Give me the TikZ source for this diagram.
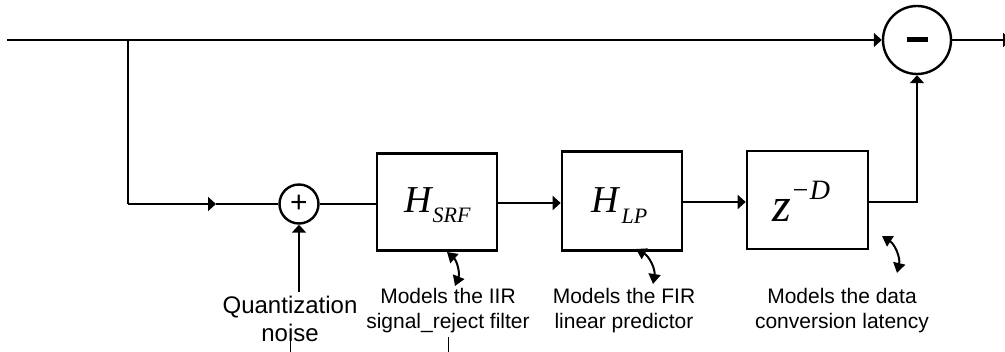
\documentclass[tikz,border=0pt]{standalone}
\usepackage{fontspec}
\setmainfont{Liberation Sans}
\newfontfamily\tim{Liberation Serif}
\usetikzlibrary{arrows.meta}
\tikzset{
  sig/.style={line width=1.8pt},
  arr/.style={sig,-{Triangle[length=8pt,width=14pt]}},
  blk/.style={draw,line width=2.6pt,minimum width=120pt,minimum height=97pt,inner sep=0pt},
  sumc/.style={draw,circle,line width=2.4pt,inner sep=0pt},
  lbl/.style={align=center,font=\fontsize{21}{25}\selectfont},
  dbl/.style={line width=2pt,{Triangle[length=10pt,width=12pt]}-{Triangle[length=10pt,width=12pt]}},
  mth/.style={anchor=base west,inner sep=0pt}
}
\begin{document}
\begin{tikzpicture}[x=1pt,y=-1pt]
\useasboundingbox (0,0) rectangle (1005,352);
% nodes
\node[sumc,minimum size=68pt] (minus) at (917,40) {\rule[-2.5pt]{21pt}{5pt}};
\node[sumc,minimum size=39pt,font=\fontsize{30}{30}\selectfont] (plus) at (299,204) {\raisebox{1pt}{+}};
\node[blk] (hsrf) at (437,202) {};
\node[blk,minimum height=99pt] (hlp) at (622,201) {};
\node[blk,minimum width=121pt,minimum height=98pt] (zd) at (807.5,200) {};
\node[mth] (hsrft) at (404,213) {\tim\itshape\fontsize{38}{38}\selectfont H\kern1pt\raisebox{-10pt}{\fontsize{22}{22}\selectfont SRF}};
\node[mth] (hlpt) at (591,213) {\tim\itshape\fontsize{38}{38}\selectfont H\kern3pt\raisebox{-11pt}{\fontsize{22}{22}\selectfont LP}};
\node[mth] (zdt) at (772,222) {\tim\itshape\fontsize{48}{48}\selectfont z\raisebox{22pt}{\fontsize{28}{28}\selectfont −D}};
\node[align=center,font=\fontsize{24}{28}\selectfont,anchor=north] (q) at (290,293) {Quantization\\noise};
\node[lbl,anchor=north] (l1) at (448,285) {Models the IIR\\signal\_reject filter};
\node[lbl,anchor=north] (l2) at (624,285) {Models the FIR\\linear predictor};
\node[lbl,anchor=north] (l3) at (842,285) {Models the data\\conversion latency};
% coordinates
\coordinate (in) at (7,40);
\coordinate (br) at (128,40);
\coordinate (c1) at (128,204);
\coordinate (mid) at (216,204);
\coordinate (out) at (1011,40);
\coordinate (nb) at (299,292);
\coordinate (a1) at (447,252);
\coordinate (b1) at (455,286);
\coordinate (a2) at (636,249);
\coordinate (b2) at (653,284);
\coordinate (a3) at (882,236);
\coordinate (b3) at (897,273);
% connectors
\draw[arr] (in) -- (minus.west);
\draw[arr] (minus.east) -- (out);
\draw[sig] (br) -- (c1);
\draw[arr] (c1) -- (mid);
\draw[sig] (mid) -- (plus.west);
\draw[sig] (plus.east) -- (hsrf.west |- plus.east);
\draw[arr] (hsrf.east |- 0,203) -- (hlp.west |- 0,203);
\draw[arr] (hlp.east |- 0,202) -- (zd.west |- 0,202);
\draw[arr] (zd.east |- 0,202) -| (minus.south);
\draw[arr] (nb) -- (plus.south);
\draw[dbl] (a1) to[bend left=35] (b1);
\draw[dbl] (a2) to[bend left=35] (b2);
\draw[dbl] (a3) to[bend left=35] (b3);
% small stray marks
\draw[line width=0.8pt] (290,331) -- (290,352);
\draw[line width=0.8pt] (448,337) -- (448,352);
\end{tikzpicture}
\end{document}
